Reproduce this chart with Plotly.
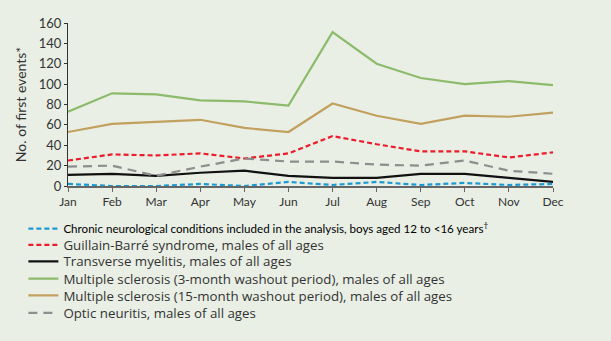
import plotly.graph_objects as go

months = ["Jan", "Feb", "Mar", "Apr", "May", "Jun", "Jul", "Aug", "Sep", "Oct", "Nov", "Dec"]

chronic_boys = [2, 0, 0, 2, 0, 4, 1, 4, 1, 3, 1, 2]
gbs = [25, 31, 30, 32, 27, 32, 49, 41, 34, 34, 28, 33]
tm = [11, 12, 10, 13, 15, 10, 8, 8, 12, 12, 8, 4]
ms3 = [73, 91, 90, 84, 83, 79, 151, 120, 106, 100, 103, 99]
ms15 = [53, 61, 63, 65, 57, 53, 81, 69, 61, 69, 68, 72]
optic = [19, 20, 10, 19, 27, 24, 24, 21, 20, 25, 15, 12]

y_ticks = [0, 20, 40, 60, 80, 100, 120, 140, 160]

tight = "Lato, sans-serif"
wide = "'Open Sans', Lato, sans-serif"

series = [
    ("Chronic neurological conditions included in the analysis, boys aged 12 to <16 years<sup>†</sup>",
     chronic_boys, "#1E9AD3", "5px,3px", "#000000", tight, 11.6),
    ("Guillain-Barré syndrome, males of all ages", gbs, "#EC1C2A", "5px,3px", "#333333", wide, 13.3),
    ("Transverse myelitis, males of all ages", tm, "#111111", "solid", "#333333", wide, 13.3),
    ("Multiple sclerosis (3-month washout period), males of all ages", ms3, "#8DBB6C", "solid", "#333333", wide, 13.3),
    ("Multiple sclerosis (15-month washout period), males of all ages", ms15, "#C2A05E", "solid", "#333333", wide, 13.3),
    ("Optic neuritis, males of all ages", optic, "#8E8E8E", "9px,6px", "#333333", wide, 13.3),
]

bg = "#E9EFE5"
legend_rows_y = [-0.262, -0.363, -0.464, -0.571, -0.673, -0.780]

fig = go.Figure()
layout_legends = {}
for i, (name, vals, color, dash, tcolor, fam, fsize) in enumerate(series):
    key = "legend" if i == 0 else f"legend{i + 1}"
    fig.add_trace(go.Scatter(
        x=months, y=vals, mode="lines", name=name, legend=key,
        line=dict(color=color, width=2.2, dash=dash),
        cliponaxis=False,
    ))
    layout_legends[key] = dict(
        x=-0.092, y=legend_rows_y[i], xanchor="left", yanchor="middle",
        bgcolor="rgba(0,0,0,0)", borderwidth=0,
        font=dict(family=fam, size=fsize, color=tcolor),
        itemwidth=30,
    )

fig.update_layout(
    width=611, height=341,
    paper_bgcolor=bg, plot_bgcolor=bg,
    margin=dict(l=68, r=58, t=23, b=150),
    font=dict(family="Lato, 'Open Sans', sans-serif", size=12, color="#222222"),
    showlegend=True,
    xaxis=dict(
        type="category", range=[0, 11], showgrid=False, zeroline=False,
        showline=True, linecolor="#666666", linewidth=1.5,
        ticks="outside", ticklen=4, tickcolor="#666666",
        tickfont=dict(size=12, color="#333333"),
    ),
    yaxis=dict(
        range=[0, 160], tickvals=y_ticks, showgrid=False, zeroline=False,
        showline=True, linecolor="#333333", linewidth=1.2,
        ticks="outside", ticklen=3, tickcolor="#333333",
        tickfont=dict(size=13, color="#333333"),
        title=dict(text="No. of first events*", font=dict(size=14, color="#333333"), standoff=8),
    ),
    **layout_legends,
)

fig.write_html("out.html")
